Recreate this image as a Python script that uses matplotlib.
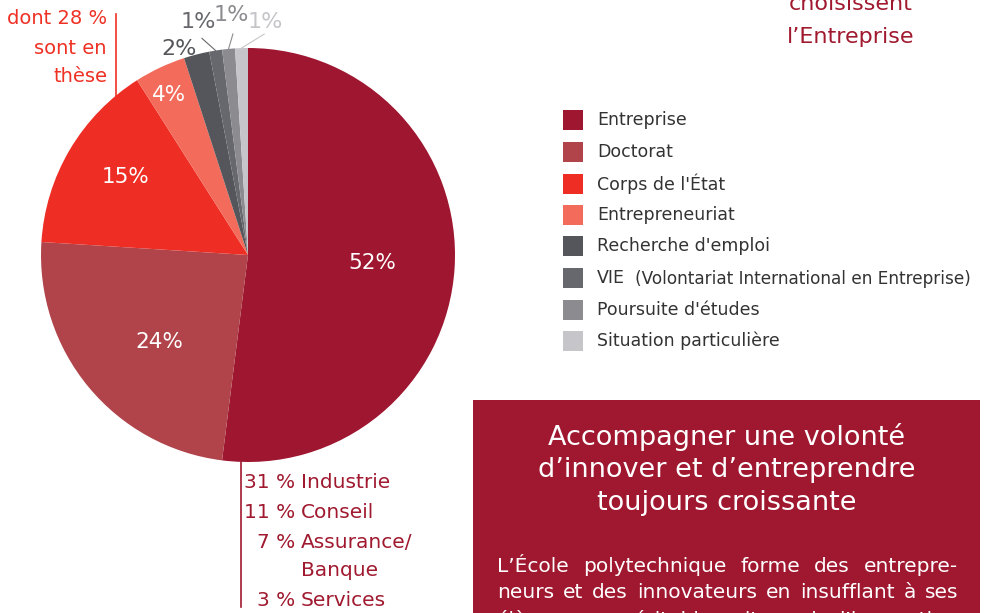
import numpy as np
import matplotlib.pyplot as plt
from matplotlib.patches import Rectangle

plt.rcParams['font.family'] = ['DejaVu Sans']

# Data
categories = ['Entreprise', 'Doctorat', "Corps de l'État", 'Entrepreneuriat',
              "Recherche d'emploi", 'VIE', "Poursuite d'études",
              'Situation particulière']
shares = [52, 24, 15, 4, 2, 1, 1, 1]
colors = ['#9e1630', '#b0444a', '#ee2e24', '#f36c5b',
          '#55565b', '#67686d', '#8b8b90', '#c6c6ca']
sectors_pct = ['31 %', '11 %', '7 %', '', '3 %']
sectors = ['Industrie', 'Conseil', 'Assurance/', 'Banque', 'Services']

DARK_RED = '#a0192f'
RED = '#ee3124'

W, H = 985, 613
fig = plt.figure(figsize=(W / 100, H / 100), dpi=100)

# background axes in pixel coordinates
bg = fig.add_axes([0, 0, 1, 1])
bg.set_xlim(0, W)
bg.set_ylim(H, 0)
bg.axis('off')

# pie: center (248, 255), radius 207 px
cx, cy, R = 248, 255, 207
ax = fig.add_axes([(cx - R) / W, (H - cy - R) / H, 2 * R / W, 2 * R / H])
wedges, _ = ax.pie(shares, colors=colors, startangle=90, counterclock=False,
                   radius=1, wedgeprops=dict(linewidth=0))
ax.set_xlim(-1, 1)
ax.set_ylim(-1, 1)
ax.set_aspect('equal')
ax.axis('off')

# labels inside / outside
label_r = [0.6, 0.6, 0.7, 0.86, 1.05, 1.15, 1.16, 1.13]
label_shift = [0, 5, -2, 1, 4, 3, -1.5, -6]  # degrees
label_col = ['white', 'white', 'white', 'white',
             '#55565b', '#67686d', '#8b8b90', '#c6c6ca']
for i, w in enumerate(wedges):
    mid = np.deg2rad((w.theta1 + w.theta2) / 2)
    ang = mid + np.deg2rad(label_shift[i])
    x, y = label_r[i] * np.cos(ang), label_r[i] * np.sin(ang)
    ax.text(x, y, f'{shares[i]}%', color=label_col[i],
            fontsize=15.5 if i < 4 else 16,
            ha='center', va='center', clip_on=False)
    if i >= 5:
        x0, y0 = 1.0 * np.cos(mid), 1.0 * np.sin(mid)
        x1, y1 = 1.07 * np.cos(ang), 1.07 * np.sin(ang)
        ax.plot([x0, x1], [y0, y1], color=label_col[i], lw=0.8,
                clip_on=False)

# note on Doctorat
bg.plot([116, 116], [14, 97], color=RED, lw=1.2)
for t, yy in zip(['dont 28 %', 'sont en', 'thèse'], [18, 48, 77]):
    bg.text(107, yy, t, color=RED, fontsize=14, ha='right', va='center')

# top right title fragment
bg.text(851, 4, 'choisissent', color=DARK_RED, fontsize=16,
        ha='center', va='center')
bg.text(851, 37, 'l\u2019Entreprise', color=DARK_RED, fontsize=16,
        ha='center', va='center')

# legend
leg_y = [120, 152, 184, 215, 246, 278, 310, 341]
for c, lab, yy in zip(colors, categories, leg_y):
    bg.add_patch(Rectangle((563, yy - 10), 20, 20, color=c, lw=0))
    bg.text(597, yy, lab, color='#333333', fontsize=12.5, ha='left',
            va='center')
    if lab == 'VIE':
        bg.text(635, yy + 1, '(Volontariat International en Entreprise)',
                color='#333333', fontsize=12.2, ha='left', va='center')

# sectors of Entreprise
bg.plot([241, 241], [462, 607], color=DARK_RED, lw=1.2)
sec_y = [483, 512, 542, 571, 600]
for p, s, yy in zip(sectors_pct, sectors, sec_y):
    if p:
        bg.text(295, yy, p, color=DARK_RED, fontsize=14.5, ha='right',
                va='center')
    bg.text(301, yy, s, color=DARK_RED, fontsize=14.5, ha='left',
            va='center')

# red box
bg.add_patch(Rectangle((473, 400), 507, 220, color='#a01830', lw=0))
for t, yy in zip(['Accompagner une volonté', 'd\u2019innover et d\u2019entreprendre',
                  'toujours croissante'], [437, 470, 503]):
    bg.text(727, yy, t, color='white', fontsize=19.5, ha='center',
            va='center')

body = ['L\u2019École polytechnique forme des entrepre-',
        'neurs et des innovateurs en insufflant à ses',
        'élèves une véritable culture de l\u2019innovation']
body_y = [567, 593, 620]
fig.canvas.draw()
rend = fig.canvas.get_renderer()
x_left, x_right = 497, 958
for line, yy in zip(body, body_y):
    words = line.split(' ')
    txts = [bg.text(0, yy, wd, color='white', fontsize=14.5, ha='left',
                    va='center') for wd in words]
    widths = []
    for t in txts:
        bb = t.get_window_extent(renderer=rend)
        widths.append(bb.width)
    gap = (x_right - x_left - sum(widths)) / max(len(words) - 1, 1)
    xx = x_left
    for t, wd in zip(txts, widths):
        t.set_x(xx)
        xx += wd + gap

fig.savefig('out.png', dpi=100)
